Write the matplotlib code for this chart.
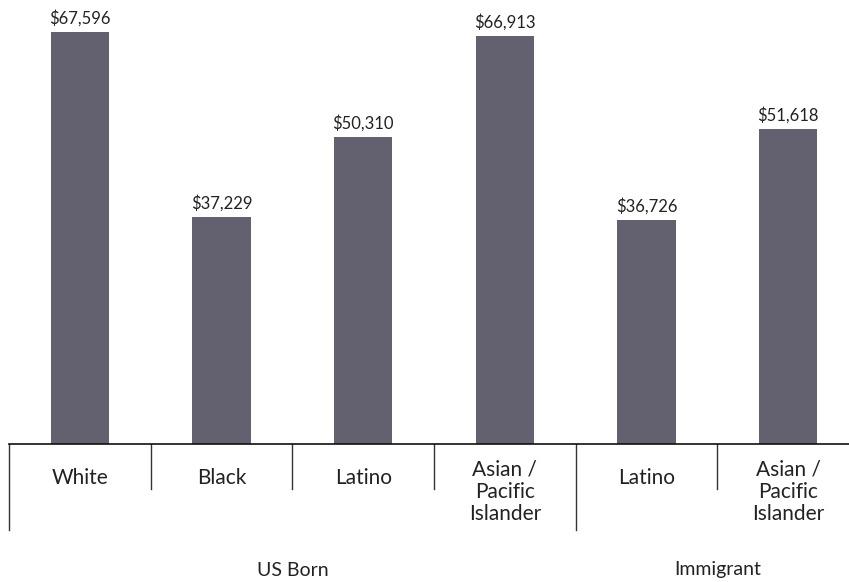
import matplotlib.pyplot as plt

categories = ['White', 'Black', 'Latino', 'Asian /\nPacific\nIslander', 'Latino', 'Asian /\nPacific\nIslander']
incomes = [67596, 37229, 50310, 66913, 36726, 51618]
groups = ['US Born', 'Immigrant']
group_spans = [(0, 3), (4, 5)]

bar_color = '#63616f'
font = ['Lato', 'DejaVu Sans']

fig = plt.figure(figsize=(8.49, 5.82), dpi=100)
ax = fig.add_axes([9 / 849, 138 / 582, 850 / 849, 444 / 582])

x = range(len(incomes))
bars = ax.bar(x, incomes, width=0.41, color=bar_color)
ax.set_xlim(-0.5, 5.5)
ax.set_ylim(0, 72850)

for rect, v in zip(bars, incomes):
    ax.annotate(f'${v:,}', (rect.get_x() + rect.get_width() / 2, v),
                xytext=(0, 4), textcoords='offset points',
                ha='center', va='bottom', fontsize=12, color='#222222', family=font)

for s in ['top', 'right', 'left']:
    ax.spines[s].set_visible(False)
ax.spines['bottom'].set_color('#111111')
ax.spines['bottom'].set_linewidth(1.2)
ax.set_xticks([])
ax.set_yticks([])

trans = ax.get_xaxis_transform()
px = 1 / 444  # one pixel in axes-fraction units

# category labels
for i, lab in enumerate(categories):
    if '\n' in lab:
        ax.text(i, -16 * px, lab, transform=trans, ha='center', va='top',
                fontsize=15, color='#222222', family=font, linespacing=1.12)
    else:
        ax.text(i, -34 * px, lab, transform=trans, ha='center', va='center',
                fontsize=15, color='#222222', family=font)

# separators between categories, longer ones between groups
for b in [0.5, 1.5, 2.5, 4.5]:
    ax.plot([b, b], [0, -45 * px], transform=trans, color='#333333', lw=1, clip_on=False)
for b in [-0.5, 3.5]:
    ax.plot([b, b], [0, -86 * px], transform=trans, color='#333333', lw=1, clip_on=False)

# group labels
for g, (a, b) in zip(groups, group_spans):
    ax.text((a + b) / 2, -126 * px, g, transform=trans, ha='center', va='center',
            fontsize=14, color='#222222', family=font)

fig.savefig('out.png', dpi=100)
